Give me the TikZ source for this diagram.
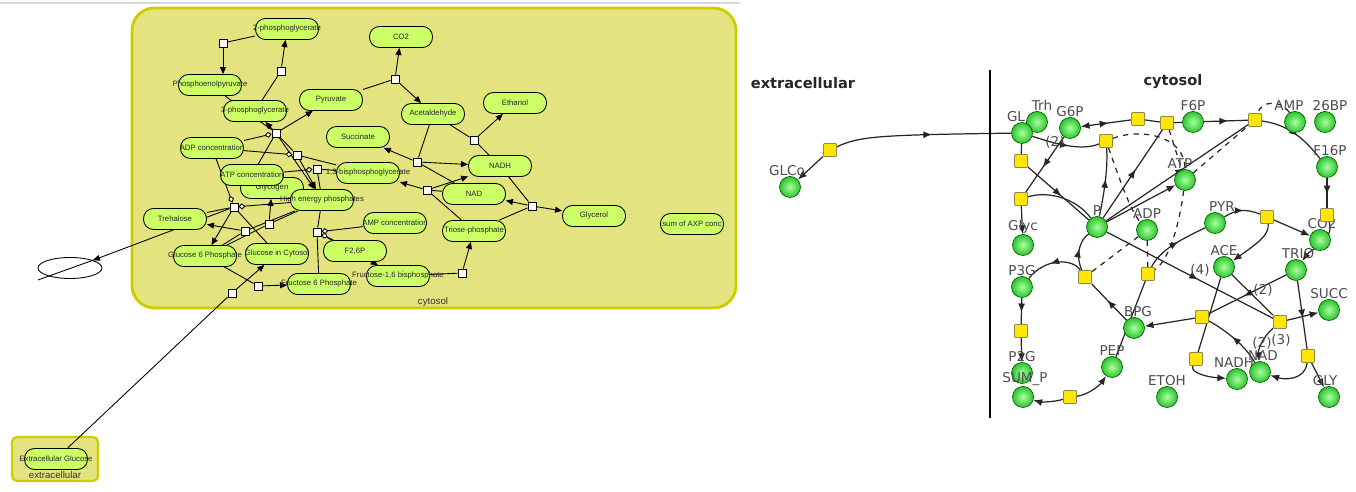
\documentclass[tikz,border=0pt]{standalone}
\usepackage{fontspec}
\setmainfont{Liberation Sans}
\newfontfamily\dejavu{DejaVu Sans}
\usepackage{tikz}
\usetikzlibrary{arrows.meta,shapes.geometric,decorations.markings}
\definecolor{cytofill}{HTML}{E3E37F}
\definecolor{cytoline}{HTML}{CCCC00}
\definecolor{spfill}{HTML}{CCFF66}
\definecolor{juncfill}{HTML}{FFE600}
\definecolor{metabin}{HTML}{A8FFA0}
\definecolor{metabout}{HTML}{2EC42E}
\pgfdeclarelayer{back}
\pgfdeclarelayer{edges}
\pgfsetlayers{back,edges,main}

\begin{document}
\begin{tikzpicture}[x=0.02cm, y=-0.02cm,
    comp/.style={draw=cytoline, fill=cytofill, line width=1.6pt, rounded corners=0.45cm},
    cname/.style={font=\fontsize{5.5}{6}\selectfont, text=black!80, inner sep=0pt},
    species/.style={draw, fill=spfill, line width=0.5pt, rounded corners=0.2cm, minimum width=1.26cm, minimum height=0.42cm, inner sep=0pt},
    spl/.style={font=\fontsize{4.4}{5}\selectfont, text=black!85, inner sep=0pt},
    reac/.style={draw, fill=white, line width=0.5pt, minimum size=0.16cm, inner sep=0pt},
    ed/.style={line width=0.5pt},
    prod/.style={ed, -{Triangle[length=4pt,width=3.4pt]}},
    modif/.style={ed, -{Diamond[fill=white,length=4pt,width=3.4pt]}},
    metab/.style={circle, draw=green!40!black, line width=0.4pt, inner color=metabin, outer color=metabout, minimum size=0.42cm, inner sep=0pt},
    rlab/.style={font=\dejavu\fontsize{7.7}{9}\selectfont, text=black!70, inner sep=0pt},
    junc/.style={draw=black!50!yellow, fill=juncfill, line width=0.5pt, minimum size=0.26cm, inner sep=0pt, rounded corners=0.5pt},
    title/.style={font=\dejavu\bfseries\fontsize{8.3}{10}\selectfont, text=black!85, inner sep=0pt},
    rl/.style={line width=0.7pt, draw=black!85},
    rlarr/.style={rl, -{Latex[length=5pt,width=4pt]}},
    rdash/.style={rl, dashed},
    flux/.style={rl, postaction={decorate}, decoration={markings, mark=at position 0.55 with {\arrow{Latex[length=5pt,width=4pt]}}}}]
\useasboundingbox (0,0) rectangle (1356,492);

% compartments of the left model
\begin{pgfonlayer}{back}
\draw[black!15, line width=1.2pt] (0,3) -- (740,3);
\draw[comp] (132,8) rectangle (736,308);
\draw[comp, rounded corners=0.1cm, line width=1.2pt] (12,437) rectangle (98,481);
\end{pgfonlayer}
\node[cname] (cytlab) at (433,302) {cytosol};
\node[cname] (extlab) at (55,475) {extracellular};

\node[species, label={[spl]center:2-phosphoglycerate}] (pg2) at (287,29) {};
\node[species, label={[spl]center:CO2}] (co2) at (401,37) {};
\node[species, label={[spl]center:Phosphoenolpyruvate}] (pep) at (210,85) {};
\node[species, label={[spl]center:Pyruvate}] (pyr) at (331,100) {};
\node[species, label={[spl]center:3-phosphoglycerate}] (pg3) at (255,111) {};
\node[species, label={[spl]center:Acetaldehyde}] (acet) at (433,114) {};
\node[species, label={[spl]center:Ethanol}] (eth) at (515,103) {};
\node[species, label={[spl]center:Succinate}] (succ) at (358,137) {};
\node[species, label={[spl]center:ADP concentration}] (adpc) at (212,148) {};
\node[species, label={[spl]center:NADH}] (nadh) at (500,166) {};
\node[species, label={[spl]center:Glycogen}] (glycogen) at (272,188) {};
\node[species, label={[spl]center:ATP concentration}] (atpc) at (252,175) {};
\node[species, label={[spl]center:1,3-bisphosphoglycerate}] (bpg13) at (368,173) {};
\node[species, label={[spl]center:High energy phosphates}] (hep) at (322,200) {};
\node[species, label={[spl]center:NAD}] (nad) at (474,194) {};
\node[species, label={[spl]center:Glycerol}] (glycerol) at (594,216) {};
\node[species, label={[spl]center:Trehalose}] (tre) at (175,219) {};
\node[species, label={[spl]center:AMP concentration}] (ampc) at (395,223) {};
\node[species, label={[spl]center:sum of AXP conc}] (axp) at (692,224) {};
\node[species, label={[spl]center:Triose-phosphate}] (triose) at (474,231) {};
\node[species, label={[spl]center:Glucose 6 Phosphate}] (g6p) at (205,256) {};
\node[species, label={[spl]center:Glucose in Cytosol}] (glc) at (277,254) {};
\node[species, label={[spl]center:F2,6P}] (f26p) at (355,251) {};
\node[species, label={[spl]center:Fructose-1,6 bisphosphate}] (fbp) at (398,276) {};
\node[species, label={[spl]center:Fructose 6 Phosphate}] (f6p) at (319,284) {};
\node[species, label={[spl]center:Extracellular Glucose}] (exglc) at (56,459) {};
\node[ellipse, draw, line width=0.5pt, minimum width=1.28cm, minimum height=0.42cm] (sink) at (70,268) {};
\coordinate (sinkend) at (38,280);

\node[reac] (r1) at (223,43) {};
\node[reac] (r2) at (281,71) {};
\node[reac] (r3) at (395,79) {};
\node[reac] (r4) at (276,133) {};
\node[reac] (r5) at (297,155) {};
\node[reac] (r6) at (317,169) {};
\node[reac] (r7) at (234,207) {};
\node[reac] (r8) at (245,231) {};
\node[reac] (r9) at (269,224) {};
\node[reac] (r10) at (317,232) {};
\node[reac] (r11) at (258,286) {};
\node[reac] (r12) at (232,293) {};
\node[reac] (r13) at (417,162) {};
\node[reac] (r14) at (427,190) {};
\node[reac] (r15) at (474,140) {};
\node[reac] (r16) at (532,206) {};
\node[reac] (r17) at (462,273) {};

\begin{pgfonlayer}{edges}
\draw[ed] (pg2) -- (r1);
\draw[prod] (r1) -- (r1 |- pep.north);
\draw[ed] (pg3) -- (r2);
\draw[prod] (r2) -- (pg2);
\draw[ed] (pyr) -- (r3);
\draw[prod] (r3) -- (co2);
\draw[prod] (r3) -- (acet);
\draw[ed] (pep) -- (r4);
\draw[prod] (r4) -- (pyr);
\draw[prod] (r4) -- (hep);
\draw[modif] (adpc) -- (r4);
\draw[ed] (atpc) -- (r4);
\draw[ed] (bpg13) -- (r5);
\draw[prod] (r5) -- (pg3);
\draw[prod] (r5) -- (hep);
\draw[modif] (adpc) -- (r5);
\draw[modif] (atpc) -- (r6);
\draw[ed] (r6) -- (bpg13);
\draw[ed] (r6) -- (hep);
\draw[ed] (glc) -- (r7);
\draw[prod] (r7) -- (g6p);
\draw[modif] (adpc) -- (r7);
\draw[modif] (hep) -- (r7);
\draw[ed] (tre) -- (r7);
\draw[prod] (r7) -- (sink.north east);
\draw[ed] (sink.north east) -- (sinkend);
\draw[ed] (g6p) -- (r8);
\draw[prod] (r8) -- (tre);
\draw[ed] (hep) -- (r8);
\draw[ed] (g6p) -- (r9);
\draw[prod] (r9) -- (glycogen);
\draw[ed] (hep) -- (r9);
\draw[ed] (f6p) -- (r10);
\draw[prod] (r10) -- (fbp);
\draw[ed] (hep) -- (r10);
\draw[modif] (ampc) -- (r10);
\draw[modif] (f26p) -- (r10);
\draw[ed] (g6p) -- (r11);
\draw[prod] (r11) -- (f6p);
\draw[ed] (exglc) -- (r12);
\draw[prod] (r12) -- (glc);
\draw[ed] (acet) -- (r13);
\draw[prod] (r13) -- (succ);
\draw[prod] (r13) -- (nadh);
\draw[ed] (r13) -- (nad);
\draw[ed] (triose) -- (r14);
\draw[ed] (nad) -- (r14);
\draw[prod] (r14) -- (bpg13);
\draw[prod] (r14) -- (nadh);
\draw[ed] (acet) -- (r15);
\draw[ed] (nadh) -- (r15);
\draw[prod] (r15) -- (eth);
\draw[ed] (triose) -- (r16);
\draw[ed] (nadh) -- (r16);
\draw[prod] (r16) -- (nad);
\draw[prod] (r16) -- (glycerol);
\draw[ed] (fbp) -- (r17);
\draw[prod] (r17) -- (triose);
\end{pgfonlayer}

% second layout of the same network
\node[title] (extitle) at (803,83) {extracellular};
\node[title] (cytitle) at (1173,82) {cytosol};
\coordinate (bordtop) at (990,70);
\coordinate (bordbot) at (990,418);
\draw[line width=0.8pt] (bordtop) -- (bordbot);

\node[metab, label={[rlab,xshift=-0.06cm]above:GLCo}] (glco) at (790,187) {};
\node[metab, label={[rlab,xshift=0.1cm]above:Trh}] (trh) at (1037,122) {};
\node[metab, label={[rlab,xshift=-0.12cm]above:GL}] (gl) at (1022,133) {};
\node[metab, label={[rlab]above:G6P}] (g6p2) at (1070,128) {};
\node[metab, label={[rlab]above:F6P}] (f6p2) at (1193,122) {};
\node[metab, label={[rlab,xshift=-0.12cm]above:AMP}] (amp) at (1295,122) {};
\node[metab, label={[rlab,xshift=0.1cm]above:26BP}] (bp26) at (1325,122) {};
\node[metab, label={[rlab,xshift=0.06cm]above:F16P}] (f16p) at (1327,167) {};
\node[metab, label={[rlab,xshift=-0.1cm]above:ATP}] (atp) at (1185,180) {};
\node[metab, label={[rlab]above:P}] (pi) at (1097,227) {};
\node[metab, label={[rlab]above:ADP}] (adp) at (1147,230) {};
\node[metab, label={[rlab]above:Glyc}] (glyc) at (1023,245) {};
\node[metab, label={[rlab,xshift=0.14cm]above:PYR}] (pyr2) at (1215,223) {};
\node[metab, label={[rlab,xshift=0.04cm]above:CO2}] (co22) at (1320,240) {};
\node[metab, label={[rlab]above:ACE}] (ace) at (1224,267) {};
\node[metab, label={[rlab,xshift=0.04cm]above:TRIO}] (trio) at (1296,270) {};
\node[metab, label={[rlab]above:P3G}] (p3g) at (1022,287) {};
\node[metab, label={[rlab]above:SUCC}] (succ2) at (1329,310) {};
\node[metab, label={[rlab,xshift=0.08cm]above:BPG}] (bpg) at (1134,328) {};
\node[metab, label={[rlab]above:PEP}] (pep2) at (1112,367) {};
\node[metab, label={[rlab]above:P2G}] (p2g) at (1022,373) {};
\node[metab, label={[rlab,xshift=0.04cm]above:SUM\_P}] (sump) at (1023,397) {};
\node[metab, label={[rlab,xshift=-0.06cm]above:NADH}] (nadh2) at (1237,379) {};
\node[metab, label={[rlab,xshift=0.06cm]above:NAD}] (nad2) at (1260,372) {};
\node[metab, label={[rlab,xshift=-0.08cm]above:GLY}] (gly) at (1329,397) {};
\node[metab, label={[rlab]above:ETOH}] (etoh) at (1167,397) {};

\node[rlab] (st1) at (1055,142) {(2)};
\node[rlab] (st2) at (1200,270) {(4)};
\node[rlab] (st3) at (1263,290) {(2)};
\node[rlab] (st4) at (1262,343) {(2)};
\node[rlab] (st5) at (1281,340) {(3)};

\node[junc] (qa) at (830,150) {};
\node[junc] (qb) at (1021,161) {};
\node[junc] (qc) at (1021,199) {};
\node[junc] (qd) at (1106,141) {};
\node[junc] (qe) at (1138,119) {};
\node[junc] (qf) at (1167,123) {};
\node[junc] (qg) at (1255,120) {};
\node[junc] (qh) at (1327,215) {};
\node[junc] (qi) at (1267,217) {};
\node[junc] (qj) at (1085,277) {};
\node[junc] (qk) at (1148,274) {};
\node[junc] (ql) at (1021,331) {};
\node[junc] (qm) at (1070,397) {};
\node[junc] (qn) at (1202,317) {};
\node[junc] (qo) at (1280,322) {};
\node[junc] (qp) at (1196,359) {};
\node[junc] (qq) at (1308,356) {};

\begin{pgfonlayer}{edges}
\draw[rlarr] (qa) -- (glco);
\draw[flux] (qa) .. controls (860,136) and (880,135) .. (gl);
\draw[rl] (gl) -- (qb);
\draw[flux] (qb) -- (pi);
\draw[flux] (g6p2) -- (qc);
\draw[rlarr] (qc) -- (glyc);
\draw[rl] (qc) .. controls (1050,190) and (1078,200) .. (pi);
\draw[flux] (gl) .. controls (1050,142) and (1080,152) .. (qd);
\draw[flux, {Latex[length=5pt,width=4pt]}-] (g6p2) -- (qe);
\draw[rl] (qe) -- (qf);
\draw[rl] (qf) -- (f6p2);
\draw[flux] (f6p2) -- (qg);
\draw[flux] (qg) .. controls (1290,125) and (1305,140) .. (f16p);
\draw[rdash] (amp) .. controls (1282,100) and (1262,100) .. (qg);
\draw[flux] (f16p) -- (qh);
\draw[rlarr] (qh) .. controls (1335,240) and (1310,250) .. (trio);
\draw[flux] (pi) -- (qf);
\draw[rlarr] (pi) -- (atp);
\draw[flux] (pi) -- (qg);
\draw[flux] (pi) .. controls (1105,190) and (1108,165) .. (qd);
\draw[flux] (pi) -- (qo);
\draw[flux] (qj) .. controls (1078,262) and (1075,245) .. (pi);
\draw[flux] (qj) .. controls (1072,258) and (1045,258) .. (p3g);
\draw[flux] (bpg) -- (qj);
\draw[flux] (p3g) -- (ql);
\draw[rlarr] (ql) -- (p2g);
\draw[rl, {Latex[length=5pt,width=4pt]}-] (sump) .. controls (1040,402) and (1055,402) .. (qm);
\draw[rlarr] (qm) .. controls (1088,395) and (1100,385) .. (pep2);
\draw[rl] (pep2) -- (qk);
\draw[flux] (qk) .. controls (1160,250) and (1180,240) .. (pyr2);
\draw[rdash] (adp) -- (qk);
\draw[rdash] (atp) .. controls (1180,220) and (1170,260) .. (qk);
\draw[rdash] (adp) -- (qj);
\draw[rdash] (atp) -- (qg);
\draw[rdash] (qf) -- (atp);
\draw[rdash] (qd) .. controls (1140,128) and (1185,135) .. (atp);
\draw[rdash] (qd) .. controls (1120,180) and (1130,210) .. (adp);
\draw[flux] (pyr2) .. controls (1235,210) and (1245,208) .. (qi);
\draw[rlarr] (qi) -- (co22);
\draw[rlarr] (qi) .. controls (1270,235) and (1255,245) .. (ace);
\draw[flux] (trio) -- (qn);
\draw[rlarr] (qn) -- (bpg);
\draw[flux] (trio) -- (qq);
\draw[rlarr] (qq) -- (gly);
\draw[rlarr] (qq) .. controls (1305,380) and (1285,380) .. (nad2);
\draw[rl] (ace) -- (qp);
\draw[rlarr] (qp) .. controls (1190,372) and (1205,377) .. (nadh2);
\draw[rl] (ace) -- (qo);
\draw[flux] (nad2) .. controls (1245,345) and (1225,330) .. (qn);
\draw[rlarr] (qo) -- (succ2);
\draw[rlarr] (qo) .. controls (1262,338) and (1258,350) .. (nad2);
\end{pgfonlayer}
\end{tikzpicture}
\end{document}
